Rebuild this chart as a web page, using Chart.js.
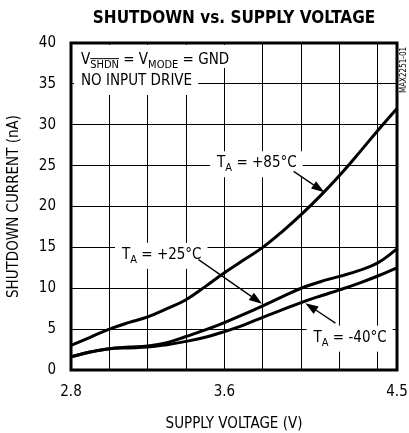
<!DOCTYPE html>
<html>
<head>
<meta charset="utf-8">
<script src="https://cdn.jsdelivr.net/npm/chart.js@4"></script>
<style>
  html, body { margin: 0; padding: 0; background: #fff; }
  #wrap { width: 409px; height: 433px; }
</style>
</head>
<body>
<div id="wrap"><canvas id="c" width="409" height="433"></canvas></div>
<script>
// ---- data ----
const supplyVoltage = [2.8, 2.9, 3.0, 3.1, 3.2, 3.3, 3.4, 3.5, 3.6, 3.7, 3.8, 3.9, 4.0, 4.1, 4.2, 4.3, 4.4, 4.5];
const current85  = [3.0, 4.0, 5.0, 5.8, 6.5, 7.5, 8.6, 10.2, 11.9, 13.45, 15.0, 16.9, 19.0, 21.3, 23.8, 26.5, 29.3, 32.0];
const current25  = [1.6, 2.2, 2.6, 2.8, 2.95, 3.35, 4.1, 4.9, 5.8, 6.8, 7.85, 8.95, 10.0, 10.8, 11.45, 12.15, 13.1, 14.8];
const currentM40 = [1.6, 2.2, 2.6, 2.7, 2.8, 3.1, 3.5, 4.0, 4.7, 5.5, 6.45, 7.35, 8.25, 9.05, 9.8, 10.6, 11.5, 12.5];
const xGridValues = [2.8, 3.0, 3.2, 3.4, 3.6, 3.8, 4.0, 4.2, 4.4, 4.5];
const xTickLabels = ['2.8', '3.6', '4.5'];
const seriesNames = ['TA = +85°C', 'TA = +25°C', 'TA = -40°C'];

const FONT = "'Liberation Sans Narrow', 'DejaVu Sans Condensed', 'Arial Narrow', sans-serif";
const TXT = 15, SUB = 11;

function pts(ys) { return supplyVoltage.map((v, i) => ({ x: v, y: ys[i] })); }

// curve labels: [main, sub, rest], text anchor (left, baseline) and arrow in data units
const curveNotes = [
  { parts: ['T', 'A', ' = +85°C'], at: [3.562, 24.8], from: [3.961, 24.3], to: [4.121, 21.75] },
  { parts: ['T', 'A', ' = +25°C'], at: [3.066, 13.6], from: [3.465, 13.5], to: [3.796, 8.1] },
  { parts: ['T', 'A', ' = -40°C'], at: [4.065, 3.47], from: [4.179, 5.73], to: [4.022, 8.18] }
];

function drawParts(ctx, parts, x, y) {
  let cx = x;
  parts.forEach(p => {
    ctx.font = (p.sub ? SUB : TXT) + 'px ' + FONT;
    const yy = p.sub ? y + 4 : y;
    ctx.fillText(p.t, cx, yy);
    const w = ctx.measureText(p.t).width;
    if (p.over) {
      ctx.beginPath();
      ctx.lineWidth = 1;
      ctx.moveTo(cx, yy - SUB * 0.85);
      ctx.lineTo(cx + w, yy - SUB * 0.85);
      ctx.stroke();
    }
    cx += w;
  });
  return cx - x;
}

function measureParts(ctx, parts) {
  let w = 0;
  parts.forEach(p => {
    ctx.font = (p.sub ? SUB : TXT) + 'px ' + FONT;
    w += ctx.measureText(p.t).width;
  });
  return w;
}

function arrow(ctx, x1, y1, x2, y2) {
  const ang = Math.atan2(y2 - y1, x2 - x1);
  const L = 13, W = 4.5;
  const bx = x2 - L * Math.cos(ang), by = y2 - L * Math.sin(ang);
  ctx.beginPath();
  ctx.lineWidth = 1.3;
  ctx.moveTo(x1, y1);
  ctx.lineTo(bx, by);
  ctx.stroke();
  ctx.beginPath();
  ctx.moveTo(x2, y2);
  ctx.lineTo(bx + W * Math.sin(ang), by - W * Math.cos(ang));
  ctx.lineTo(bx - W * Math.sin(ang), by + W * Math.cos(ang));
  ctx.closePath();
  ctx.fill();
}

const cond1 = [{ t: 'V' }, { t: 'SHDN', sub: true, over: true }, { t: ' = V' }, { t: 'MODE', sub: true }, { t: ' = GND' }];
const cond2 = [{ t: 'NO INPUT DRIVE' }];

const annotPlugin = {
  id: 'annot',
  beforeDatasetsDraw(chart) {
    const { ctx, scales: { x, y }, chartArea: ca } = chart;
    ctx.save();
    ctx.fillStyle = '#fff';
    const w1 = measureParts(ctx, cond1), w2 = measureParts(ctx, cond2);
    ctx.fillRect(ca.left + 3, ca.top + 2, w1 + 13, 23);
    ctx.fillRect(ca.left + 3, ca.top + 25, w2 + 13, 27);
    curveNotes.forEach(n => {
      const parts = [{ t: n.parts[0] }, { t: n.parts[1], sub: true }, { t: n.parts[2] }];
      const w = measureParts(ctx, parts);
      const px = x.getPixelForValue(n.at[0]);
      const py = y.getPixelForValue(n.at[1]);
      ctx.fillRect(px - 7, py - 16, w + 13, 26);
    });
    ctx.restore();
  },
  afterDatasetsDraw(chart) {
    const { ctx, scales: { x, y }, chartArea: ca } = chart;
    ctx.save();
    ctx.fillStyle = '#000';
    ctx.strokeStyle = '#000';
    ctx.textBaseline = 'alphabetic';
    ctx.textAlign = 'left';
    drawParts(ctx, cond1, ca.left + 10, ca.top + 21);
    drawParts(ctx, cond2, ca.left + 10, ca.top + 42);
    curveNotes.forEach(n => {
      const parts = [{ t: n.parts[0] }, { t: n.parts[1], sub: true }, { t: n.parts[2] }];
      drawParts(ctx, parts, x.getPixelForValue(n.at[0]), y.getPixelForValue(n.at[1]));
      arrow(ctx, x.getPixelForValue(n.from[0]), y.getPixelForValue(n.from[1]),
                 x.getPixelForValue(n.to[0]), y.getPixelForValue(n.to[1]));
    });
    ctx.lineWidth = 3;
    ctx.strokeRect(ca.left, ca.top, ca.right - ca.left, ca.bottom - ca.top);
    ctx.translate(chart.width - 5, ca.top + 27);
    ctx.rotate(-Math.PI / 2);
    ctx.textAlign = 'center';
    ctx.textBaseline = 'middle';
    ctx.font = '8px ' + FONT;
    ctx.fillText('MAX2251-01', 0, 0);
    ctx.restore();
  }
};

const lineStyle = { borderColor: '#000', borderWidth: 3, pointRadius: 0, fill: false, tension: 0.4 };

new Chart(document.getElementById('c'), {
  type: 'line',
  data: {
    datasets: [
      Object.assign({ label: seriesNames[0], data: pts(current85) }, lineStyle),
      Object.assign({ label: seriesNames[1], data: pts(current25) }, lineStyle),
      Object.assign({ label: seriesNames[2], data: pts(currentM40) }, lineStyle)
    ]
  },
  options: {
    responsive: false,
    animation: false,
    devicePixelRatio: 1,
    layout: { padding: { left: 0, right: 12, top: 0, bottom: 0 } },
    plugins: {
      legend: { display: false },
      tooltip: { enabled: false },
      title: {
        display: true,
        fullSize: false,
        text: 'SHUTDOWN vs. SUPPLY VOLTAGE',
        color: '#000',
        font: { family: FONT, size: 17, weight: 'bold' },
        padding: { top: 8, bottom: 14.6 }
      }
    },
    scales: {
      x: {
        type: 'linear',
        min: 2.8, max: 4.5,
        afterBuildTicks: s => { s.ticks = xGridValues.map(v => ({ value: v })); },
        afterFit: s => { s.height = 63; s.paddingRight = 0; s.paddingLeft = 0; },
        ticks: {
          autoSkip: false, maxRotation: 0, padding: 13, color: '#000',
          font: { family: FONT, size: 15 },
          callback: v => { const t = (+v).toFixed(1); return xTickLabels.includes(t) ? t : ''; }
        },
        grid: { color: '#000', lineWidth: 1, drawTicks: false },
        border: { display: false },
        title: { display: true, text: 'SUPPLY VOLTAGE (V)', color: '#000', font: { family: FONT, size: 15 }, padding: { top: 4, bottom: 0 } }
      },
      y: {
        min: 0, max: 40,
        afterFit: s => { s.width = 71; },
        ticks: { stepSize: 5, padding: 15, color: '#000', font: { family: FONT, size: 15 } },
        grid: { color: '#000', lineWidth: 1, drawTicks: false },
        border: { display: false },
        title: { display: true, text: 'SHUTDOWN CURRENT (nA)', color: '#000', font: { family: FONT, size: 15 }, padding: { top: 5, bottom: 0 } }
      }
    }
  },
  plugins: [annotPlugin]
});
</script>
</body>
</html>
